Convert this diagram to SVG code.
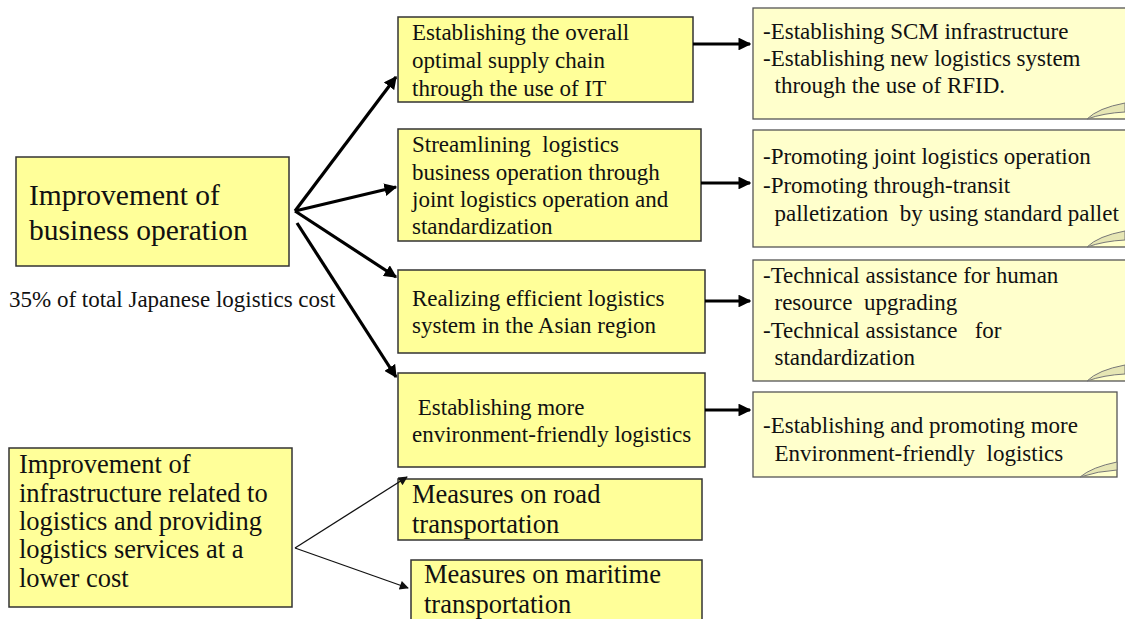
<svg xmlns="http://www.w3.org/2000/svg" width="1125" height="619" viewBox="0 0 1125 619">
<defs>
<style>
text{font-family:"Liberation Serif","Times New Roman",serif;fill:#111;white-space:pre}
.box{fill:#FFFF99;stroke:#333;stroke-width:1.5}
.note{fill:#FFFFCC;stroke:#555;stroke-width:1.3}
.curl{fill:#E6E6B4;stroke:#777;stroke-width:1}
.t23{font-size:23px}
.t26{font-size:26.5px}
.t29{font-size:29.5px}
.thick{stroke:#000;stroke-width:3.2;fill:none;marker-end:url(#ah)}
.thin{stroke:#111;stroke-width:1.3;fill:none;marker-end:url(#ahs)}
</style>
<marker id="ah" viewBox="0 0 10 10" refX="9" refY="5" markerWidth="4" markerHeight="4" orient="auto" markerUnits="strokeWidth">
<path d="M0,0 L10,5 L0,10 z" fill="#000"/>
</marker>
<marker id="ahs" viewBox="0 0 10 10" refX="9" refY="5" markerWidth="8" markerHeight="7" orient="auto" markerUnits="strokeWidth">
<path d="M0,0 L10,5 L0,10 z" fill="#111"/>
</marker>
</defs>
<rect width="1125" height="619" fill="#fff"/>

<g id="main-business">
<rect class="box" x="16" y="157" width="273" height="109"/>
<text class="t29" x="29" y="205">Improvement of</text>
<text class="t29" x="29" y="240">business operation</text>
</g>
<g id="label-cost">
<text class="t23" x="9" y="307">35% of total Japanese logistics cost</text>
</g>

<g id="main-infra">
<rect class="box" x="9" y="448" width="283" height="159"/>
<text class="t26" x="19" y="473">Improvement of</text>
<text class="t26" x="19" y="502">infrastructure related to</text>
<text class="t26" x="19" y="530">logistics and providing</text>
<text class="t26" x="19" y="558">logistics services at a</text>
<text class="t26" x="19" y="587">lower cost</text>
</g>

<g id="box-it">
<rect class="box" x="398" y="17" width="295" height="85"/>
<text class="t23" x="412" y="40">Establishing the overall</text>
<text class="t23" x="412" y="68">optimal supply chain</text>
<text class="t23" x="412" y="96">through the use of IT</text>
</g>
<g id="box-joint">
<rect class="box" x="398" y="129" width="303" height="112"/>
<text class="t23" x="412" y="152">Streamlining  logistics</text>
<text class="t23" x="412" y="180">business operation through</text>
<text class="t23" x="412" y="207">joint logistics operation and</text>
<text class="t23" x="412" y="234">standardization</text>
</g>
<g id="box-asia">
<rect class="box" x="398" y="270" width="307" height="83"/>
<text class="t23" x="412" y="306">Realizing efficient logistics</text>
<text class="t23" x="412" y="333">system in the Asian region</text>
</g>
<g id="box-env">
<rect class="box" x="398" y="373" width="307" height="94"/>
<text class="t23" x="412" y="415"> Establishing more</text>
<text class="t23" x="412" y="442">environment-friendly logistics</text>
</g>
<g id="box-road">
<rect class="box" x="398" y="479" width="304" height="61"/>
<text class="t26" x="412" y="503">Measures on road</text>
<text class="t26" x="412" y="533">transportation</text>
</g>
<g id="box-maritime">
<rect class="box" x="411" y="560" width="291" height="70"/>
<text class="t26" x="424" y="583">Measures on maritime</text>
<text class="t26" x="424" y="613">transportation</text>
</g>

<g id="note-it">
<rect class="note" x="753" y="8" width="380" height="111"/>
<path class="curl" d="M1087,119 Q1098,108 1125,103 L1125,112 Q1104,113 1087,119 z"/>
<text class="t23" x="763" y="39">-Establishing SCM infrastructure</text>
<text class="t23" x="763" y="66">-Establishing new logistics system</text>
<text class="t23" x="763" y="93">  through the use of RFID.</text>
</g>
<g id="note-joint">
<rect class="note" x="753" y="130" width="380" height="117"/>
<path class="curl" d="M1087,247 Q1098,236 1125,231 L1125,240 Q1104,241 1087,247 z"/>
<text class="t23" x="763" y="164">-Promoting joint logistics operation</text>
<text class="t23" x="763" y="193">-Promoting through-transit</text>
<text class="t23" x="763" y="221">  palletization  by using standard pallet</text>
</g>
<g id="note-asia">
<rect class="note" x="753" y="260" width="380" height="121"/>
<path class="curl" d="M1087,381 Q1098,370 1125,365 L1125,374 Q1104,375 1087,381 z"/>
<text class="t23" x="763" y="283">-Technical assistance for human</text>
<text class="t23" x="763" y="310">  resource  upgrading</text>
<text class="t23" x="763" y="338">-Technical assistance   for</text>
<text class="t23" x="763" y="365">  standardization</text>
</g>
<g id="note-env">
<rect class="note" x="753" y="392" width="364" height="85"/>
<path class="curl" d="M1080,477 Q1092,467 1117,462 L1117,470 Q1098,471 1080,477 z"/>
<text class="t23" x="763" y="433">-Establishing and promoting more</text>
<text class="t23" x="763" y="461">  Environment-friendly  logistics</text>
</g>

<g id="connectors">
<line class="thick" x1="295" y1="211" x2="396" y2="77"/>
<line class="thick" x1="295" y1="211" x2="396" y2="187"/>
<line class="thick" x1="295" y1="211" x2="396" y2="277"/>
<line class="thick" x1="297" y1="223" x2="396" y2="377"/>
<line class="thick" x1="693" y1="44" x2="750" y2="44"/>
<line class="thick" x1="701" y1="183" x2="750" y2="183"/>
<line class="thick" x1="705" y1="301" x2="750" y2="301"/>
<line class="thick" x1="705" y1="410" x2="750" y2="410"/>
<line class="thin" x1="295" y1="548" x2="407" y2="477"/>
<line class="thin" x1="295" y1="548" x2="408" y2="588"/>
</g>
</svg>
